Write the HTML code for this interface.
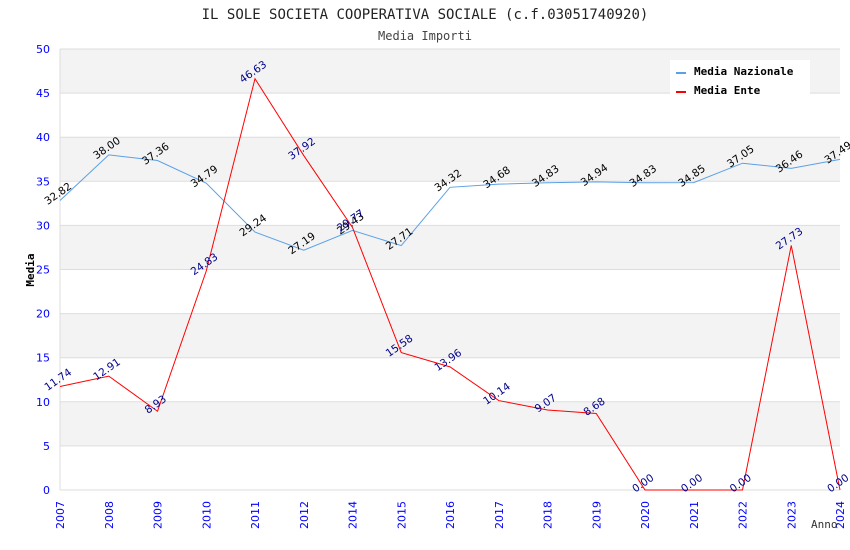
<!DOCTYPE html>
<html><head><meta charset="utf-8"><style>
body{margin:0;background:#fff;}
svg{display:block;}
</style></head><body>
<svg id="chart" width="850" height="550" xmlns="http://www.w3.org/2000/svg">
<text x="425" y="19" text-anchor="middle" font-family="DejaVu Sans Mono, Liberation Mono, monospace" font-size="14" fill="#222">IL SOLE SOCIETA COOPERATIVA SOCIALE (c.f.03051740920)</text>
<text x="425" y="40" text-anchor="middle" font-family="DejaVu Sans Mono, Liberation Mono, monospace" font-size="12" fill="#444">Media Importi</text>
<g id="grid"></g>
<g id="axes"></g>
<g id="series"></g>
<g id="legend">
<rect x="670" y="60" width="140" height="36" fill="#fff"/>
<rect x="676" y="72" width="10" height="2" fill="#5aa0e8"/>
<text x="694" y="75" font-family="DejaVu Sans Mono, monospace" font-size="11" font-weight="bold" fill="#000">Media Nazionale</text>
<rect x="676" y="91" width="10" height="2" fill="#f00"/>
<text x="694" y="94" font-family="DejaVu Sans Mono, monospace" font-size="11" font-weight="bold" fill="#000">Media Ente</text>
</g>
</svg>
<script>
const categories=["2007","2008","2009","2010","2011","2012","2014","2015","2016","2017","2018","2019","2020","2021","2022","2023","2024"];
const nazionale=[32.82,38.00,37.36,34.79,29.24,27.19,29.43,27.71,34.32,34.68,34.83,34.94,34.83,34.85,37.05,36.46,37.49];
const ente=[11.74,12.91,8.93,24.83,46.63,37.92,29.77,15.58,13.96,10.14,9.07,8.68,0.00,0.00,0.00,27.73,0.00];
const yTicks=[0,5,10,15,20,25,30,35,40,45,50];
const L=60,R=840,T=49,B=490,NS="http://www.w3.org/2000/svg";
const x=i=>L+i*(R-L)/(categories.length-1);
const y=v=>B-(v/50)*(B-T);
function mk(tag,attrs,parent){const e=document.createElementNS(NS,tag);for(const k in attrs)e.setAttribute(k,attrs[k]);parent.appendChild(e);return e;}
const grid=document.getElementById('grid'),axes=document.getElementById('axes'),series=document.getElementById('series');
for(let i=0;i<yTicks.length-1;i++){
  if(i%2===1){const r=mk('rect',{x:L,y:y(yTicks[i+1]),width:R-L,height:y(yTicks[i])-y(yTicks[i+1]),fill:'#f3f3f3'},grid);
  
  }
}
yTicks.forEach(t=>{
  const l=mk('line',{x1:L,x2:R,y1:y(t),y2:y(t),stroke:'#ddd','stroke-width':1},grid);
  
  
  const tx=mk('text',{x:L-10,y:y(t)+4,'text-anchor':'end','font-family':'DejaVu Sans, sans-serif','font-size':11,fill:'#00f'},axes);
  tx.textContent=t;
  
  
});
const ax=mk('line',{x1:L,x2:L,y1:T,y2:B,stroke:'#ddd'},axes);


categories.forEach((c,i)=>{
  const tx=mk('text',{x:0,y:0,transform:`translate(${x(i)+4},${B+39}) rotate(-90)`,'font-family':'DejaVu Sans, sans-serif','font-size':11,fill:'#00f'},axes);
  tx.textContent=c;
  
  
});
const yt=mk('text',{x:0,y:0,transform:`translate(34,270) rotate(-90)`,'text-anchor':'middle','font-family':'DejaVu Sans Mono, monospace','font-size':11,'font-weight':'bold',fill:'#000'},axes);
yt.textContent='Media';


const xt=mk('text',{x:811,y:528,'font-family':'DejaVu Sans Mono, monospace','font-size':11,fill:'#333'},axes);
xt.textContent='Anno';


function draw(vals,color,lab,name){
  const p=mk('polyline',{points:vals.map((v,i)=>x(i)+','+y(v)).join(' '),fill:'none',stroke:color,'stroke-width':1},series);
  
  
  vals.forEach((v,i)=>{
    const t=mk('text',{x:0,y:0,transform:`translate(${x(i)},${y(v)-4}) rotate(-35)`,'text-anchor':'middle','font-family':'DejaVu Sans, sans-serif','font-size':10.5,fill:lab},series);
    t.textContent=v.toFixed(2);
    
    
  });
}
draw(nazionale,'#5aa0e8','#000','nazionale');
draw(ente,'#f00','#00008b','ente');
</script>
</body></html>
